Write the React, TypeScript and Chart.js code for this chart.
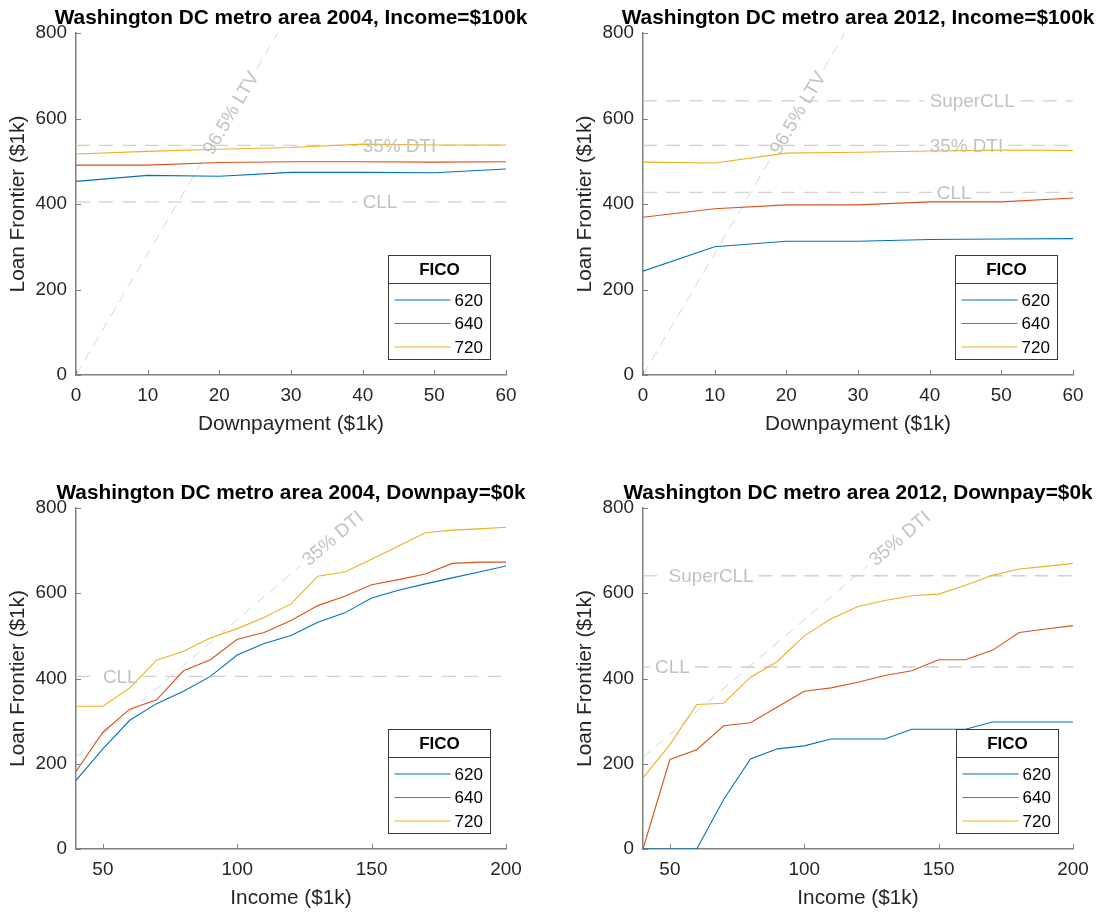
import React, { useEffect, useRef } from "react";
import { Chart, registerables } from "chart.js";

Chart.register(...registerables);

const FONT = '"Liberation Sans", Arial, Helvetica, sans-serif';
Chart.defaults.font.family = FONT;

// ---------- data ----------
const ficoLabels = ["620", "640", "720"];
const ficoColors = ["#0072BD", "#D95319", "#EDB120"];

const yTicks = [0, 200, 400, 600, 800];
const downpaymentTicks = [0, 10, 20, 30, 40, 50, 60];
const incomeTicks = [50, 100, 150, 200];

// Top row: x = downpayment ($1k), income = $100k
const downpayment = [0, 10, 20, 30, 40, 50, 60];
const dp2004_620 = [453, 467, 465, 474, 474, 473, 482];
const dp2004_640 = [491, 491, 497, 499, 499, 498, 499];
const dp2004_720 = [517, 523, 528, 532, 540, 538, 538];
const dp2012_620 = [243, 300, 313, 313, 317, 318, 319];
const dp2012_640 = [369, 389, 398, 398, 405, 405, 414];
const dp2012_720 = [498, 496, 519, 521, 524, 526, 525];

// Bottom row: x = income ($1k), downpayment = $0k
const income = [40, 50, 60, 70, 80, 90, 100, 110, 120, 130, 140, 150, 160, 170, 180, 190, 200];
const inc2004_620 = [161, 235, 302, 341, 370, 405, 455, 482, 501, 532, 554, 589, 607, 622, 636, 650, 664];
const inc2004_640 = [182, 274, 328, 350, 418, 444, 492, 508, 536, 571, 593, 620, 632, 645, 670, 673, 673];
const inc2004_720 = [335, 335, 378, 443, 464, 495, 517, 543, 575, 640, 650, 680, 711, 742, 748, 751, 755];
const inc2012_620 = [0, 0, 0, 116, 211, 235, 242, 258, 258, 258, 281, 281, 281, 298, 298, 298, 298];
const inc2012_640 = [0, 210, 233, 289, 296, 333, 370, 378, 391, 407, 418, 444, 444, 466, 508, 516, 524];
const inc2012_720 = [167, 245, 339, 342, 403, 440, 500, 540, 569, 583, 594, 598, 619, 642, 657, 663, 670];

// Reference levels ($1k)
const cll2004 = 405;
const cll2012 = 427;
const superCll2012 = 641;
const dti35At100k = 537;
const ltvSlope = 28.4; // loan per $1k downpayment at 96.5% LTV
const dtiSlope = 5.38; // loan per $1k income at 35% DTI

// ---------- styles ----------
const TICK_SIZE = 18.9;
const LABEL_SIZE = 20.8;
const LEGEND_SIZE = 17;
const AXIS_COLOR = "#808080";
const TEXT_COLOR = "#262626";
const REF_LINE = "#d0d0d0";
const REF_TEXT = "#c2c2c2";

type HLine = { value: number; label: string; labelAt: number };
type Diag = { slope: number; label: string; labelLoan: number; xStart: number; endAtLabel: boolean };
type Rect = { left: number; top: number; width: number; height: number };
type Area = { left: number; top: number; right: number; bottom: number };

interface PanelSpec {
  key: string;
  title: string;
  xLabel: string;
  xs: number[];
  series: number[][];
  xMin: number;
  xMax: number;
  xTicks: number[];
  hLines: HLine[];
  diag: Diag;
  canvas: Rect;
  area: Area;
  legendInset: { right: number; bottom: number };
}

const panels: PanelSpec[] = [
  {
    key: "tl",
    title: "Washington DC metro area 2004, Income=$100k",
    xLabel: "Downpayment ($1k)",
    xs: downpayment,
    series: [dp2004_620, dp2004_640, dp2004_720],
    xMin: 0,
    xMax: 60,
    xTicks: downpaymentTicks,
    hLines: [
      { value: dti35At100k, label: "35% DTI", labelAt: 40 },
      { value: cll2004, label: "CLL", labelAt: 40 },
    ],
    diag: { slope: ltvSlope, label: "96.5% LTV", labelLoan: 613, xStart: 0, endAtLabel: false },
    canvas: { left: 0, top: 0, width: 551, height: 457 },
    area: { left: 76, top: 33, right: 506, bottom: 375 },
    legendInset: { right: 16, bottom: 16 },
  },
  {
    key: "tr",
    title: "Washington DC metro area 2012, Income=$100k",
    xLabel: "Downpayment ($1k)",
    xs: downpayment,
    series: [dp2012_620, dp2012_640, dp2012_720],
    xMin: 0,
    xMax: 60,
    xTicks: downpaymentTicks,
    hLines: [
      { value: superCll2012, label: "SuperCLL", labelAt: 40 },
      { value: dti35At100k, label: "35% DTI", labelAt: 40 },
      { value: cll2012, label: "CLL", labelAt: 41 },
    ],
    diag: { slope: ltvSlope, label: "96.5% LTV", labelLoan: 613, xStart: 0, endAtLabel: false },
    canvas: { left: 551, top: 0, width: 552, height: 457 },
    area: { left: 643, top: 33, right: 1073, bottom: 375 },
    legendInset: { right: 16, bottom: 16 },
  },
  {
    key: "bl",
    title: "Washington DC metro area 2004, Downpay=$0k",
    xLabel: "Income ($1k)",
    xs: income,
    series: [inc2004_620, inc2004_640, inc2004_720],
    xMin: 40,
    xMax: 200,
    xTicks: incomeTicks,
    hLines: [{ value: cll2004, label: "CLL", labelAt: 50 }],
    diag: { slope: dtiSlope, label: "35% DTI", labelLoan: 729, xStart: 40, endAtLabel: true },
    canvas: { left: 0, top: 457, width: 551, height: 457 },
    area: { left: 76, top: 508, right: 506, bottom: 849 },
    legendInset: { right: 16, bottom: 16 },
  },
  {
    key: "br",
    title: "Washington DC metro area 2012, Downpay=$0k",
    xLabel: "Income ($1k)",
    xs: income,
    series: [inc2012_620, inc2012_640, inc2012_720],
    xMin: 40,
    xMax: 200,
    xTicks: incomeTicks,
    hLines: [
      { value: superCll2012, label: "SuperCLL", labelAt: 49.5 },
      { value: cll2012, label: "CLL", labelAt: 44.5 },
    ],
    diag: { slope: dtiSlope, label: "35% DTI", labelLoan: 729, xStart: 40, endAtLabel: true },
    canvas: { left: 551, top: 457, width: 552, height: 457 },
    area: { left: 643, top: 508, right: 1073, bottom: 849 },
    legendInset: { right: 15, bottom: 16 },
  },
];

function seg(ctx: CanvasRenderingContext2D, x0: number, y0: number, x1: number, y1: number) {
  ctx.beginPath();
  ctx.moveTo(x0, y0);
  ctx.lineTo(x1, y1);
  ctx.stroke();
}

function makePlugin(spec: PanelSpec) {
  const diagGeom = (chart: any) => {
    const { scales: { x, y } } = chart;
    const d = spec.diag;
    const xEnd = Math.min(spec.xMax, 800 / d.slope);
    const p0 = { x: x.getPixelForValue(d.xStart), y: y.getPixelForValue(d.slope * d.xStart) };
    const p1 = { x: x.getPixelForValue(xEnd), y: y.getPixelForValue(d.slope * xEnd) };
    const cx = x.getPixelForValue(d.labelLoan / d.slope);
    const cy = y.getPixelForValue(d.labelLoan);
    const len = Math.hypot(p1.x - p0.x, p1.y - p0.y);
    const ux = (p1.x - p0.x) / len;
    const uy = (p1.y - p0.y) / len;
    return { p0, p1, cx, cy, ux, uy, angle: Math.atan2(uy, ux) };
  };
  return {
    id: "panelDecor_" + spec.key,
    beforeDatasetsDraw(chart: any) {
      const { ctx, chartArea: a, scales: { x, y } } = chart;
      ctx.save();
      ctx.beginPath();
      ctx.rect(a.left, a.top, a.right - a.left, a.bottom - a.top);
      ctx.clip();
      ctx.font = `${TICK_SIZE}px ${FONT}`;
      // horizontal reference lines, broken around their labels
      ctx.strokeStyle = REF_LINE;
      ctx.lineWidth = 1.3;
      ctx.setLineDash([14, 9]);
      for (const h of spec.hLines) {
        const py = y.getPixelForValue(h.value);
        const tx = x.getPixelForValue(h.labelAt);
        const w = ctx.measureText(h.label).width;
        seg(ctx, a.left, py, tx - 5, py);
        seg(ctx, tx + w + 5, py, a.right, py);
      }
      // diagonal reference line
      const g = diagGeom(chart);
      const w = ctx.measureText(spec.diag.label).width;
      const gap = w / 2 + 5;
      ctx.lineWidth = 0.9;
      ctx.setLineDash([10, 7]);
      seg(ctx, g.p0.x, g.p0.y, g.cx - g.ux * gap, g.cy - g.uy * gap);
      if (!spec.diag.endAtLabel) seg(ctx, g.cx + g.ux * gap, g.cy + g.uy * gap, g.p1.x, g.p1.y);
      ctx.restore();
    },
    afterDatasetsDraw(chart: any) {
      const { ctx, scales: { x, y } } = chart;
      ctx.save();
      ctx.font = `${TICK_SIZE}px ${FONT}`;
      ctx.fillStyle = REF_TEXT;
      ctx.textBaseline = "middle";
      ctx.textAlign = "left";
      for (const h of spec.hLines) {
        ctx.fillText(h.label, x.getPixelForValue(h.labelAt), y.getPixelForValue(h.value) + 1);
      }
      const g = diagGeom(chart);
      ctx.translate(g.cx, g.cy);
      ctx.rotate(g.angle);
      ctx.textAlign = "center";
      ctx.fillText(spec.diag.label, 0, 1);
      ctx.restore();
    },
    afterDraw(chart: any) {
      const { ctx, chartArea: a, scales: { x, y } } = chart;
      ctx.save();
      // inward tick marks
      ctx.strokeStyle = AXIS_COLOR;
      ctx.lineWidth = 1;
      for (const t of spec.xTicks) {
        const px = Math.round(x.getPixelForValue(t)) + 0.5;
        seg(ctx, px, a.bottom, px, a.bottom - 5);
      }
      for (const t of yTicks) {
        const py = Math.round(y.getPixelForValue(t)) + 0.5;
        seg(ctx, a.left, py, a.left + 5, py);
      }
      // title
      const cxA = (a.left + a.right) / 2;
      ctx.fillStyle = "#000";
      ctx.textAlign = "center";
      ctx.textBaseline = "alphabetic";
      ctx.font = `bold ${LABEL_SIZE}px ${FONT}`;
      ctx.fillText(spec.title, cxA, a.top - 9.5);
      // axis labels
      ctx.fillStyle = TEXT_COLOR;
      ctx.font = `${LABEL_SIZE}px ${FONT}`;
      ctx.fillText(spec.xLabel, cxA, a.bottom + 54.5);
      ctx.save();
      ctx.translate(a.left - 52, (a.top + a.bottom) / 2);
      ctx.rotate(-Math.PI / 2);
      ctx.fillText("Loan Frontier ($1k)", 0, 0);
      ctx.restore();
      // legend
      const lw = 102;
      const lh = 104;
      const bx = Math.round(a.right - spec.legendInset.right - lw) + 0.5;
      const by = Math.round(a.bottom - spec.legendInset.bottom - lh) + 0.5;
      ctx.fillStyle = "#fff";
      ctx.fillRect(bx, by, lw, lh);
      ctx.strokeStyle = "#3a3a3a";
      ctx.lineWidth = 1;
      ctx.strokeRect(bx, by, lw, lh);
      seg(ctx, bx, by + 28, bx + lw, by + 28);
      ctx.fillStyle = "#000";
      ctx.textBaseline = "middle";
      ctx.textAlign = "center";
      ctx.font = `bold ${LEGEND_SIZE}px ${FONT}`;
      ctx.fillText("FICO", bx + lw / 2, by + 15);
      ctx.font = `${LEGEND_SIZE}px ${FONT}`;
      ctx.textAlign = "left";
      chart.data.datasets.forEach((ds: any, i: number) => {
        const yy = by + 44.5 + i * 23.5;
        ctx.strokeStyle = ds.borderColor;
        ctx.lineWidth = 1.2;
        seg(ctx, bx + 6, yy, bx + 62, yy);
        ctx.fillStyle = "#000";
        ctx.fillText(ds.label, bx + 66, yy + 1);
      });
      ctx.restore();
    },
  };
}

function Panel({ spec }: { spec: PanelSpec }) {
  const ref = useRef<HTMLCanvasElement>(null);
  useEffect(() => {
    const c = spec.canvas;
    const a = spec.area;
    const chart = new Chart(ref.current as HTMLCanvasElement, {
      type: "line",
      data: {
        datasets: spec.series.map((vals, i) => ({
          label: ficoLabels[i],
          data: spec.xs.map((xv, j) => ({ x: xv, y: vals[j] })),
          borderColor: ficoColors[i],
          backgroundColor: ficoColors[i],
          borderWidth: 1.1,
          pointRadius: 0,
          fill: false,
          tension: 0,
        })),
      },
      options: {
        responsive: false,
        animation: false,
        devicePixelRatio: 1,
        events: [],
        layout: {
          padding: {
            left: 0,
            top: a.top - c.top,
            right: c.left + c.width - a.right,
            bottom: 0,
          },
        },
        plugins: {
          legend: { display: false },
          tooltip: { enabled: false },
          title: { display: false },
        },
        scales: {
          x: {
            type: "linear",
            min: spec.xMin,
            max: spec.xMax,
            grid: { display: false, drawTicks: false },
            border: { display: true, color: AXIS_COLOR, width: 1.5 },
            ticks: {
              padding: 9,
              color: TEXT_COLOR,
              font: { size: TICK_SIZE },
              maxRotation: 0,
              autoSkip: false,
            },
            afterBuildTicks: (s: any) => {
              s.ticks = spec.xTicks.map((v) => ({ value: v }));
            },
            afterFit: (s: any) => {
              s.height = c.top + c.height - a.bottom;
            },
          },
          y: {
            type: "linear",
            min: 0,
            max: 800,
            grid: { display: false, drawTicks: false },
            border: { display: true, color: AXIS_COLOR, width: 1.5 },
            ticks: {
              padding: 9,
              color: TEXT_COLOR,
              font: { size: TICK_SIZE },
              autoSkip: false,
            },
            afterBuildTicks: (s: any) => {
              s.ticks = yTicks.map((v) => ({ value: v }));
            },
            afterFit: (s: any) => {
              s.width = a.left - c.left;
            },
          },
        },
      },
      plugins: [makePlugin(spec)],
    } as any);
    return () => chart.destroy();
  }, [spec]);
  const c = spec.canvas;
  return (
    <canvas
      ref={ref}
      width={c.width}
      height={c.height}
      style={{ position: "absolute", left: c.left, top: c.top, width: c.width, height: c.height }}
    />
  );
}

export default function App() {
  return (
    <div style={{ position: "absolute", left: 0, top: 0, width: 1103, height: 914, background: "#fff" }}>
      {panels.map((p) => (
        <Panel key={p.key} spec={p} />
      ))}
    </div>
  );
}
